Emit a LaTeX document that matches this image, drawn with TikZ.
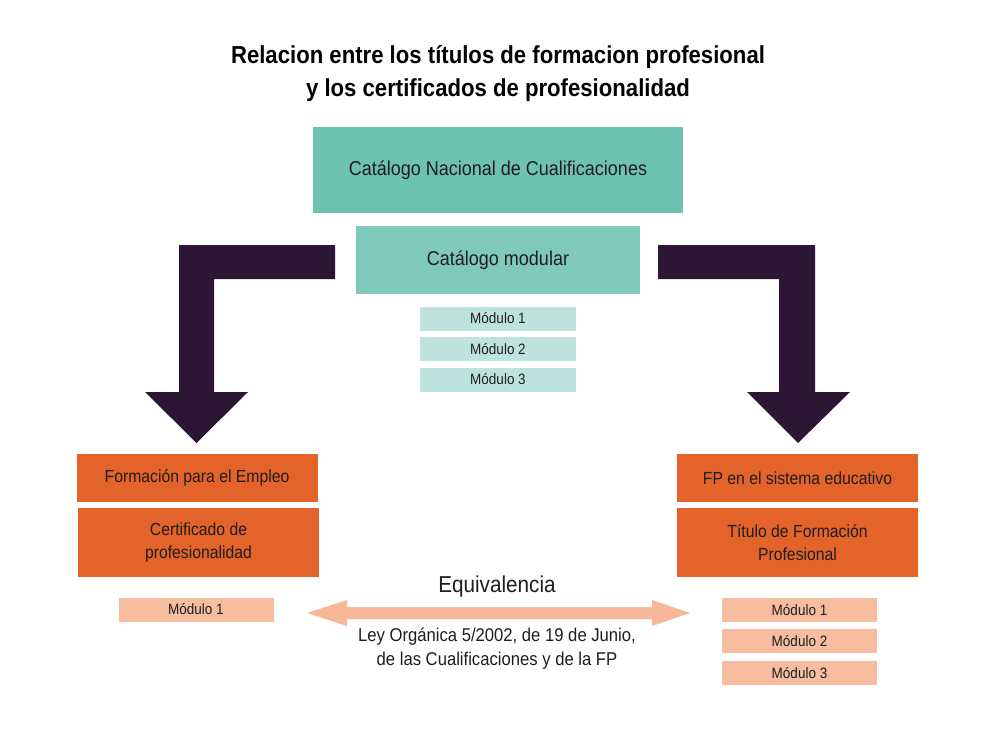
\documentclass[tikz,border=0pt]{standalone}
\usepackage{fontspec}
\setmainfont[FakeStretch=0.9]{Liberation Sans}
\definecolor{txt}{HTML}{1E1E1E}
\definecolor{tealA}{HTML}{6DC2B1}
\definecolor{tealB}{HTML}{7FC9BB}
\definecolor{tealC}{HTML}{BEE3DD}
\definecolor{orangeA}{HTML}{E3632A}
\definecolor{orangeB}{HTML}{F7BDA0}
\definecolor{arrowD}{HTML}{2D1633}
\definecolor{arrowL}{HTML}{F6B899}
\begin{document}
\begin{tikzpicture}[x=1pt,y=-1pt,
  box/.style={inner sep=0pt,align=center,text=txt,font=\fontsize{17.5}{23}\selectfont},
  bigbox/.style={box,fill=tealA,minimum width=370pt,minimum height=86pt,font=\fontsize{20}{24}\selectfont},
  modbox/.style={box,fill=tealB,minimum width=284pt,minimum height=68pt,font=\fontsize{20}{24}\selectfont},
  tmod/.style={box,fill=tealC,minimum width=156pt,minimum height=24pt,font=\fontsize{15}{17}\selectfont},
  obox/.style={box,fill=orangeA,minimum width=241pt},
  omod/.style={box,fill=orangeB,minimum width=155pt,minimum height=24pt,font=\fontsize{15}{17}\selectfont},
  darrow/.style={fill=arrowD},
  larrow/.style={fill=arrowL}]
\useasboundingbox (0,0) rectangle (1000,733);
\fill[white] (0,0) rectangle (1000,733);
% title
\node[text=black,align=center,font=\bfseries\fontsize{24.6}{33}\selectfont] (title) at (498,74)
  {Relacion entre los títulos de formacion profesional\\y los certificados de profesionalidad};
% teal
\node[bigbox] (cnc) at (498,170) {Catálogo Nacional de Cualificaciones};
\node[modbox] (cm) at (498,260) {Catálogo modular};
\node[tmod] (m1) at (498,318.5) {Módulo 1};
\node[tmod] (m2) at (498,349) {Módulo 2};
\node[tmod] (m3) at (498,379.5) {Módulo 3};
% left
\node[obox,minimum height=48pt] (fpe) at (197,478) {Formación para el Empleo};
\node[obox,minimum height=69pt] (cp) at (198.5,542.5) {Certificado de\\profesionalidad};
\node[omod] (lm1) at (196,609.5) {Módulo 1};
% right
\node[obox,minimum height=48pt] (fpse) at (797.5,478) {FP en el sistema educativo};
\node[obox,minimum height=69pt] (tfp) at (797.5,542.5) {Título de Formación\\Profesional};
\node[omod] (rm1) at (799.5,610) {Módulo 1};
\node[omod] (rm2) at (799.5,641) {Módulo 2};
\node[omod] (rm3) at (799.5,673) {Módulo 3};
% dark L arrows
\fill[darrow] (335,245) -- (179,245) -- (179,392) -- (145,392) -- (196.5,443) -- (248,392) -- (214,392) -- (214,279) -- (335,279) -- cycle;
\fill[darrow] (658,245) -- (815,245) -- (815,392) -- (850,392) -- (798,443) -- (747,392) -- (779,392) -- (779,279) -- (658,279) -- cycle;
% equivalence arrow
\coordinate (eqL) at (307,613);
\coordinate (eqR) at (690,613);
\fill[larrow] (eqL) -- (347,600) -- (347,607) -- (652,607) -- (652,600) -- (eqR) -- (652,626) -- (652,619) -- (347,619) -- (347,626) -- cycle;
\node[text=txt,font=\fontsize{23}{26}\selectfont] (eq) at (497,587) {Equivalencia};
\node[text=txt,align=center,font=\fontsize{18.5}{24}\selectfont] (ley) at (497,649) {Ley Orgánica 5/2002, de 19 de Junio,\\de las Cualificaciones y de la FP};
\end{tikzpicture}
\end{document}
